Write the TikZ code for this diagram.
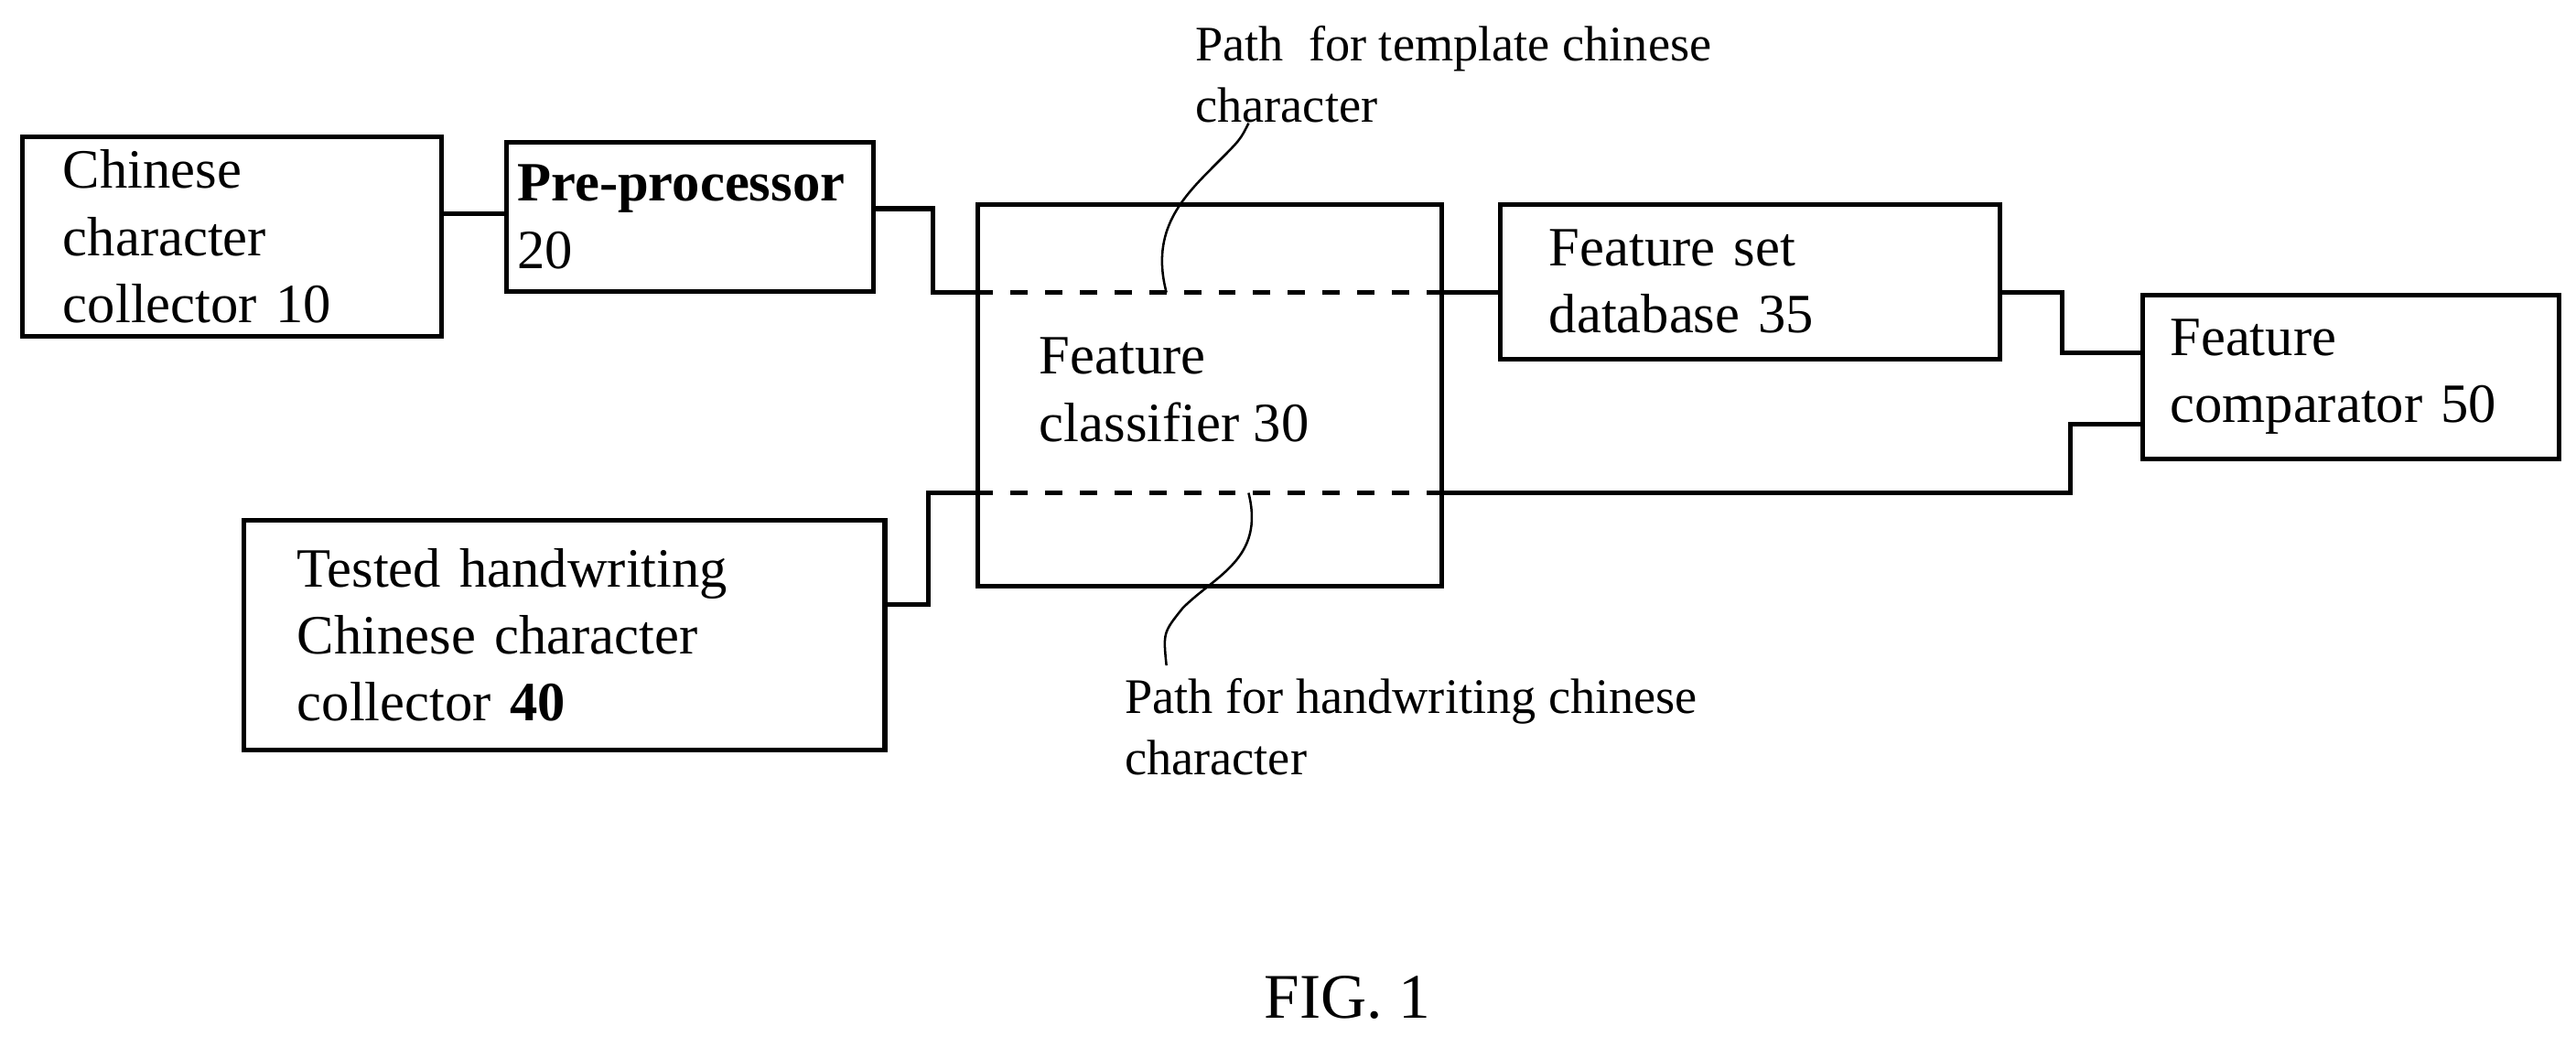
\documentclass[tikz,border=0pt]{standalone}
\usepackage{fontspec}
\setmainfont{Liberation Serif}
\usetikzlibrary{positioning,calc}
\tikzset{
  block/.style={draw, thick, rectangle, align=left, anchor=north west,
    inner sep=0pt, font=\fontsize{9.6pt}{11.6pt}\selectfont},
  wire/.style={thick},
  inner/.style={thick, dashed},
  note/.style={align=left, anchor=north west, inner sep=0pt,
    font=\fontsize{8.6pt}{10.6pt}\selectfont}
}
\begin{document}
\begin{tikzpicture}[x=0.01cm, y=-0.01cm]
  \useasboundingbox (0,0) rectangle (1568,637);
  % blocks
  \node[block, minimum width=2.55cm, minimum height=1.21cm, text width=2.05cm] (coll) at (12,82)
    {Chinese\\character\\collector 10};
  \node[block, minimum width=2.23cm, minimum height=0.91cm, text width=2.1cm] (pre) at (307,85)
    {\textbf{Pre-processor}\\20};
  \node[block, minimum width=2.82cm, minimum height=2.32cm] (cls) at (594,123) {};
  \node[font=\fontsize{9.6pt}{11.6pt}\selectfont, align=left, anchor=north west, inner sep=0pt] (clst) at (632,205)
    {Feature\\classifier 30};
  \node[block, minimum width=3.04cm, minimum height=0.94cm, text width=2.45cm] (db) at (912,123)
    {Feature set\\database 35};
  \node[block, minimum width=2.53cm, minimum height=1.0cm, text width=2.2cm] (cmp) at (1303,178)
    {Feature\\comparator 50};
  \node[block, minimum width=3.9cm, minimum height=1.4cm, text width=3.25cm] (test) at (147,315)
    {Tested handwriting\\Chinese character\\collector \textbf{40}};
  % coordinates of the wires
  \coordinate (a1) at (568,127);
  \coordinate (a2) at (568,178);
  \coordinate (a3) at (594,178);
  \coordinate (a4) at (876,178);
  \coordinate (a5) at (912,178);
  \coordinate (b1) at (1255,178);
  \coordinate (b2) at (1255,215);
  \coordinate (b3) at (1303,215);
  \coordinate (c1) at (565,368);
  \coordinate (c2) at (565,300);
  \coordinate (c3) at (594,300);
  \coordinate (c4) at (876,300);
  \coordinate (c5) at (1260,300);
  \coordinate (c6) at (1260,258);
  \coordinate (c7) at (1303,258);
  % wires
  \draw[wire] (coll.east |- 0,130) -- (pre.west |- 0,130);
  \draw[wire] (pre.east |- a1) -- (a1) -- (a2) -- (a3);
  \draw[inner] (a3) -- (a4);
  \draw[wire] (a4) -- (a5);
  \draw[wire] (db.east |- b1) -- (b1) -- (b2) -- (b3);
  \draw[wire] (test.east |- c1) -- (c1) -- (c2) -- (c3);
  \draw[inner] (c3) -- (c4);
  \draw[wire] (c4) -- (c5) -- (c6) -- (c7);
  % labels
  \node[note] (top) at (727,15) {Path\ \ for template chinese\\character};
  \node[note] (bot) at (684,412) {Path for handwriting chinese\\character};
  \draw[thin] (710,178) .. controls (700,140) and (720,120) .. (740,100)
    .. controls (755,85) .. (760,75);
  \draw[thin] (760,300) .. controls (770,340) and (740,350) .. (720,370)
    .. controls (708,385) .. (710,405);
  \node[font=\fontsize{11pt}{13pt}\selectfont] (fig) at (820,607) {FIG. 1};
\end{tikzpicture}
\end{document}
